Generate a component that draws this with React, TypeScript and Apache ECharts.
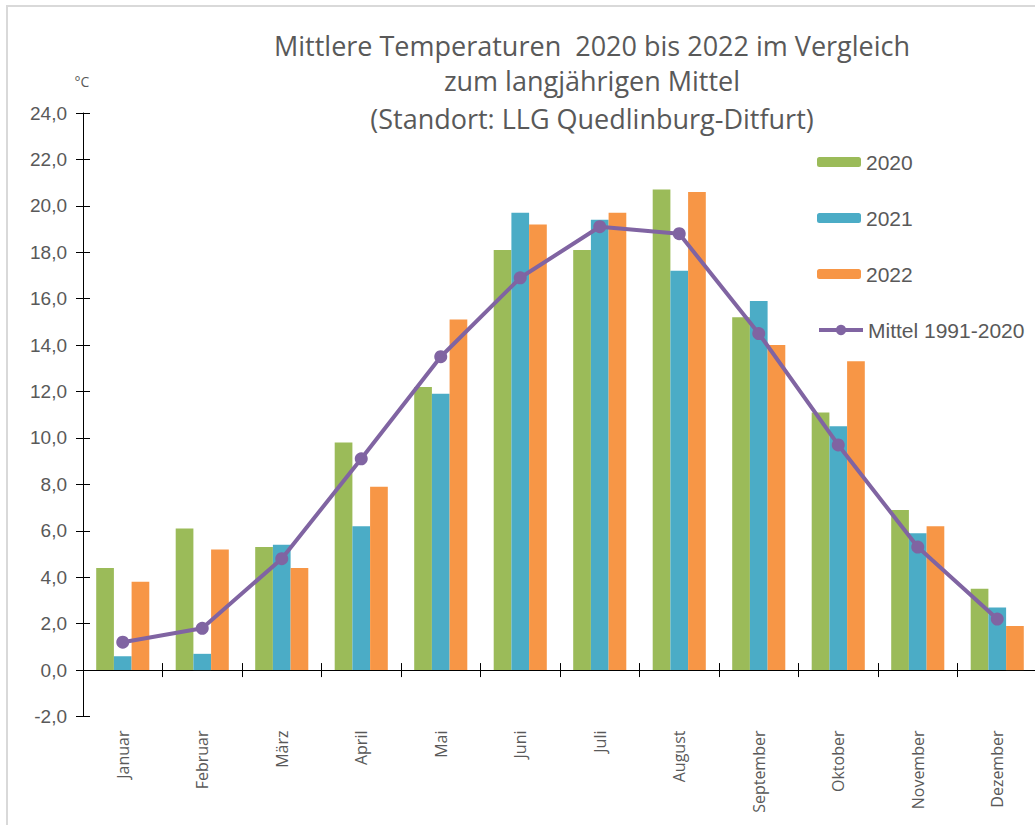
import React, { useEffect, useRef } from "react";
import * as echarts from "echarts";

const months = [
  "Januar",
  "Februar",
  "März",
  "April",
  "Mai",
  "Juni",
  "Juli",
  "August",
  "September",
  "Oktober",
  "November",
  "Dezember",
];
const t2020 = [4.4, 6.1, 5.3, 9.8, 12.2, 18.1, 18.1, 20.7, 15.2, 11.1, 6.9, 3.5];
const t2021 = [0.6, 0.7, 5.4, 6.2, 11.9, 19.7, 19.4, 17.2, 15.9, 10.5, 5.9, 2.7];
const t2022 = [3.8, 5.2, 4.4, 7.9, 15.1, 19.2, 19.7, 20.6, 14.0, 13.3, 6.2, 1.9];
const mittel = [1.2, 1.8, 4.8, 9.1, 13.5, 16.9, 19.1, 18.8, 14.5, 9.7, 5.3, 2.2];

const titleLines = [
  "Mittlere Temperaturen  2020 bis 2022 im Vergleich",
  "zum langjährigen Mittel",
  "(Standort: LLG Quedlinburg-Ditfurt)",
];
const unitLabel = "°C";
const seriesNames = ["2020", "2021", "2022", "Mittel 1991-2020"];

const GREY = "#595959";
const PURPLE = "#8064A2";

export default function App() {
  const ref = useRef<HTMLDivElement>(null);
  useEffect(() => {
    if (!ref.current) return;
    const chart = echarts.init(ref.current, undefined, { renderer: "svg" });
    const titleY = [45, 80, 118];
    const fmt = (v: number) => v.toFixed(1).replace(".", ",");
    const legendText = {
      fontSize: 21,
      lineHeight: 24,
      fontFamily: "'Liberation Sans', Arial, sans-serif",
      color: GREY,
    };
    chart.setOption({
      animation: false,
      backgroundColor: "#ffffff",
      graphic: [
        {
          type: "rect",
          shape: { x: 7, y: 6, width: 1100, height: 900 },
          style: { fill: "none", stroke: "#d9d9d9", lineWidth: 2 },
          z: -10,
        },
        ...titleLines.map((t, i) => ({
          type: "text",
          x: 592,
          y: titleY[i],
          style: {
            text: t,
            fontSize: 27,
            fontFamily: "'Open Sans', sans-serif",
            fill: GREY,
            align: "center",
            verticalAlign: "middle",
          },
        })),
        {
          type: "text",
          x: 82,
          y: 81,
          style: {
            text: unitLabel,
            fontSize: 14,
            fontFamily: "'Open Sans', sans-serif",
            fill: GREY,
            align: "center",
            verticalAlign: "middle",
          },
        },
      ],
      legend: [
        {
          data: seriesNames.slice(0, 3),
          orient: "vertical",
          left: 817,
          top: 150,
          padding: 0,
          itemWidth: 44,
          itemHeight: 10,
          itemGap: 32,
          textStyle: legendText,
        },
        {
          data: [{ name: seriesNames[3], lineStyle: { width: 4 } }],
          orient: "vertical",
          left: 817,
          top: 318,
          padding: 0,
          itemWidth: 44,
          itemHeight: 13,
          textStyle: legendText,
        },
      ],
      grid: {
        left: 83,
        right: -2,
        top: 113,
        bottom: 108.5,
        containLabel: false,
        outerBoundsMode: "none",
      },
      xAxis: [
        {
          type: "category",
          data: months,
          position: "bottom",
          axisLine: { onZero: true, lineStyle: { color: "#000", width: 1 } },
          axisTick: { show: true, inside: false, length: 7, lineStyle: { color: "#000" } },
          axisLabel: {
            rotate: 90,
            margin: 14,
            fontSize: 16,
            fontFamily: "'Open Sans', sans-serif",
            color: GREY,
            interval: 0,
          },
          splitLine: { show: false },
        },
        {
          type: "category",
          data: months,
          position: "bottom",
          axisLine: { show: false, onZero: true },
          axisTick: { show: true, inside: true, length: 7, lineStyle: { color: "#000" } },
          axisLabel: { show: false },
          splitLine: { show: false },
        },
      ],
      yAxis: [
        {
          type: "value",
          min: -2,
          max: 24,
          interval: 2,
          position: "left",
          axisLine: { show: true, onZero: false, lineStyle: { color: "#000", width: 1 } },
          axisTick: { show: true, inside: false, length: 7, lineStyle: { color: "#000" } },
          axisLabel: {
            formatter: fmt,
            margin: 16,
            fontSize: 19,
            fontFamily: "'Liberation Sans', Arial, sans-serif",
            color: GREY,
          },
          splitLine: { show: false },
        },
        {
          type: "value",
          min: -2,
          max: 24,
          interval: 2,
          position: "left",
          axisLine: { show: false, onZero: false },
          axisTick: { show: true, inside: true, length: 7, lineStyle: { color: "#000" } },
          axisLabel: { show: false },
          splitLine: { show: false },
        },
      ],
      series: [
        {
          name: seriesNames[0],
          type: "bar",
          data: t2020,
          barWidth: 17.7,
          barGap: "0%",
          itemStyle: { color: "#9BBB59" },
        },
        {
          name: seriesNames[1],
          type: "bar",
          data: t2021,
          barWidth: 17.7,
          barGap: "0%",
          itemStyle: { color: "#4BACC6" },
        },
        {
          name: seriesNames[2],
          type: "bar",
          data: t2022,
          barWidth: 17.7,
          barGap: "0%",
          itemStyle: { color: "#F79646" },
        },
        {
          name: seriesNames[3],
          type: "line",
          data: mittel,
          symbol: "circle",
          symbolSize: 13,
          z: 5,
          lineStyle: { color: PURPLE, width: 4 },
          itemStyle: { color: PURPLE },
        },
      ],
    });
    return () => chart.dispose();
  }, []);
  return (
    <div
      ref={ref}
      style={{ position: "absolute", left: 0, top: 0, width: 1035, height: 825 }}
    />
  );
}
